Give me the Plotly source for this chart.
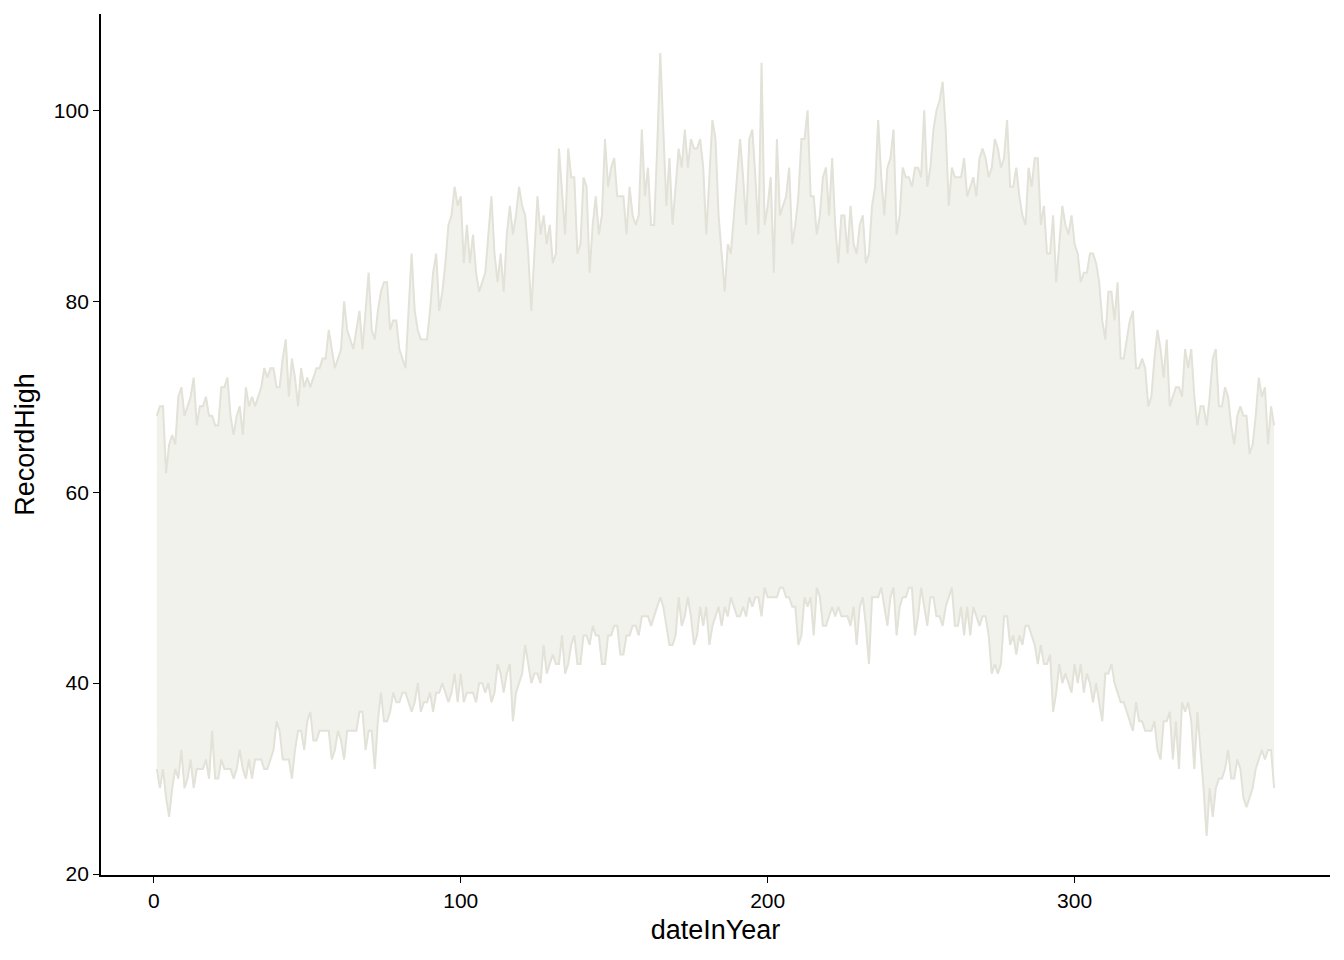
import plotly.graph_objects as go

# Day of year (category axis values)
date_in_year = list(range(1, 366))

# Record high temperatures (days 1..365)
record_high = [
    68,69,69,62,65,66,65,70,71,68, 69,70,72,67,69,69,70,68,68,67,
    67,71,71,72,68,66,68,69,66,71, 69,70,69,70,71,73,72,73,73,71,
    71,74,76,70,74,72,69,73,71,72, 71,72,73,73,74,74,77,75,73,74,
    75,80,77,76,75,77,79,75,79,83, 77,76,79,81,82,82,77,78,78,75,
    74,73,79,85,79,77,76,76,76,79, 83,85,79,81,84,88,89,92,90,91,
    84,88,84,87,83,81,82,83,87,91, 85,82,85,81,87,90,87,89,92,90,
    89,85,79,85,91,87,89,86,88,84, 85,96,91,87,96,93,93,85,86,93,
    92,83,88,91,87,89,97,92,94,95, 91,91,91,87,92,89,88,89,98,91,
    94,88,88,96,106,98,90,95,88,92, 96,94,98,94,97,96,96,97,94,87,
    93,99,97,89,85,81,86,85,89,93, 97,93,88,97,98,93,87,105,88,90,
    93,83,97,89,90,91,94,86,88,91, 97,97,100,91,91,87,89,93,94,89,
    95,88,84,89,89,85,90,86,85,88, 89,84,85,90,92,99,93,89,94,95,
    98,87,89,94,93,93,92,94,94,93, 100,92,94,98,100,101,103,98,90,94,
    93,93,93,95,91,92,93,91,95,96, 95,93,94,97,96,94,95,99,92,92,
    94,91,89,88,94,92,95,95,88,90, 85,85,89,82,86,90,88,87,89,86,
    85,82,83,83,85,85,84,82,78,76, 81,81,78,82,74,74,76,78,79,73,
    73,74,73,69,70,74,77,75,72,76, 69,70,71,71,70,75,73,75,70,67,
    69,69,67,70,74,75,69,69,71,70, 67,65,68,69,68,68,64,65,68,72,
    70,71,65,69,67,
]

# Record low temperatures (days 1..365)
record_low = [
    31,29,31,28,26,29,31,30,33,29, 30,32,29,31,31,31,32,30,35,30,
    30,32,31,31,31,30,31,33,31,30, 32,30,32,32,32,31,31,32,33,36,
    35,32,32,32,30,33,35,35,33,36, 37,34,34,35,35,35,35,32,33,35,
    34,32,35,35,35,35,37,37,33,35, 35,31,36,39,36,36,37,39,38,38,
    39,39,38,37,38,40,37,38,38,39, 37,39,39,40,39,38,39,41,38,41,
    38,39,39,39,38,40,40,39,40,38, 39,42,41,39,41,42,36,39,40,41,
    44,42,40,41,41,40,44,41,42,43, 42,42,45,41,42,44,45,42,42,45,
    45,44,46,45,45,42,42,45,45,46, 46,43,43,45,45,46,46,45,47,47,
    47,46,47,48,49,48,46,44,44,45, 49,46,47,49,47,44,45,48,46,48,
    44,46,47,48,46,48,47,49,48,47, 47,48,47,49,48,49,49,47,50,49,
    49,49,49,50,50,49,49,48,48,44, 45,49,48,49,45,50,49,46,46,47,
    48,47,48,47,47,47,46,48,44,48, 49,46,42,49,49,49,50,48,46,49,
    50,45,48,49,49,50,50,45,47,50, 48,46,49,49,47,47,46,48,49,50,
    46,46,48,45,48,45,48,47,46,47, 47,45,41,42,41,42,47,47,44,45,
    43,45,44,46,46,45,44,42,44,42, 42,43,37,39,42,40,41,40,39,42,
    40,42,39,41,40,38,40,38,36,41, 41,42,40,39,38,38,37,36,35,38,
    36,36,35,35,35,36,33,32,36,36, 37,32,36,31,38,37,38,36,31,37,
    33,29,24,29,26,29,30,30,31,33, 30,30,32,31,28,27,28,29,31,32,
    33,32,33,33,29,
]

x_ticks = [0, 100, 200, 300]
y_ticks = [20, 40, 60, 80, 100]

FILL = "rgb(242,242,236)"
LINE = "rgb(226,226,216)"
FONT = "Liberation Sans, Arial, Helvetica, sans-serif"

fig = go.Figure()
fig.add_trace(go.Scatter(
    x=date_in_year, y=record_low, mode="lines",
    line=dict(color=LINE, width=2), showlegend=False, hoverinfo="skip",
))
fig.add_trace(go.Scatter(
    x=date_in_year, y=record_high, mode="lines",
    line=dict(color=LINE, width=2), fill="tonexty", fillcolor=FILL,
    showlegend=False,
))

axis_common = dict(
    showline=True, linecolor="black", linewidth=1.8,
    ticks="outside", ticklen=6, tickwidth=1.4, tickcolor="black",
    showgrid=False, zeroline=False,
    tickfont=dict(family=FONT, size=21, color="black"),
    title_font=dict(family=FONT, size=27, color="black"),
)

fig.update_layout(
    width=1328, height=944,
    paper_bgcolor="white", plot_bgcolor="white",
    margin=dict(l=93, r=6, t=6, b=77),
    xaxis=dict(range=[-17.2, 383.2], tickvals=x_ticks,
               title=dict(text="dateInYear", standoff=9), **axis_common),
    yaxis=dict(range=[19.9, 110.1], tickvals=y_ticks,
               title=dict(text="RecordHigh", standoff=11), **axis_common),
)

fig.write_html("out.html")
